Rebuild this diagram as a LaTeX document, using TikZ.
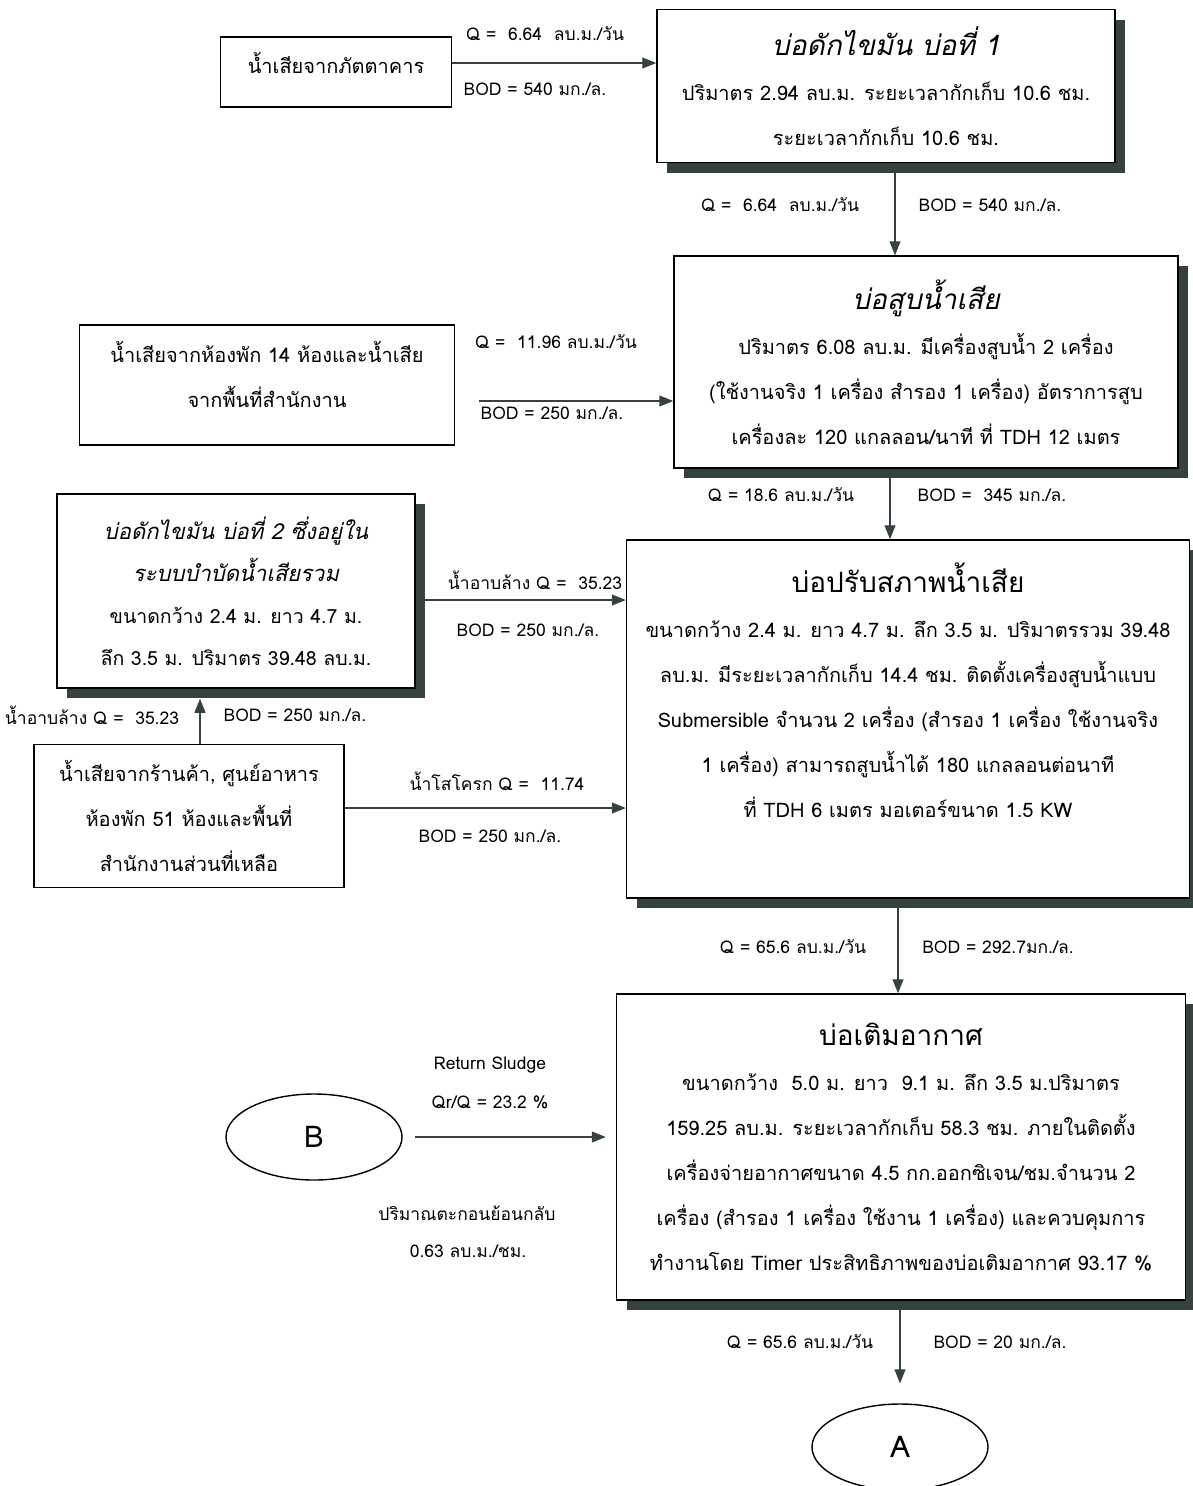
\documentclass[tikz,border=0pt]{standalone}
\usepackage{fontspec}
\setmainfont[Script=Thai]{Loma}
\usetikzlibrary{arrows.meta,shadows,shapes.geometric}
\definecolor{shade}{HTML}{35423F}
\tikzset{
  tank/.style={draw,fill=white,line width=1.5pt,inner sep=0pt,align=center,
    font=\fontsize{20}{45}\selectfont,
    drop shadow={shadow xshift=10pt,shadow yshift=-10pt,fill=shade,opacity=1}},
  src/.style={draw,line width=1.2pt,inner sep=0pt,align=center,font=\fontsize{20}{45}\selectfont},
  lbl/.style={inner sep=0pt,font=\fontsize{17.5}{20}\selectfont},
  flow/.style={-{Triangle[length=14pt,width=11pt]},line width=1.1pt,draw=shade,fill=shade},
  stop/.style={draw,ellipse,line width=1.4pt,minimum width=176pt,minimum height=86pt,font=\fontsize{30}{30}\selectfont}
}
\newcommand{\bigttl}[1]{{\fontsize{28}{45}\selectfont #1}}
\begin{document}
\begin{tikzpicture}[x=1pt,y=-1pt]
  \useasboundingbox (0,0) rectangle (1193,1486);

  \node (s1) [src,minimum width=231pt,minimum height=70pt,text depth=18pt] at (336,72)   {น้ำเสียจากภัตตาคาร};
  \node (p1) [tank,minimum width=458pt,minimum height=153pt] at (886,86)
        {\bigttl{\itshape บ่อดักไขมัน บ่อที่ 1}\\ปริมาตร 2.94 ลบ.ม. ระยะเวลากักเก็บ 10.6 ชม.\\ระยะเวลากักเก็บ 10.6 ชม.};
  \node (s2) [src,minimum width=375pt,minimum height=120pt,text depth=22pt] at (267,385)
        {น้ำเสียจากห้องพัก 14 ห้องและน้ำเสีย\\จากพื้นที่สำนักงาน};
  \node (p2) [tank,minimum width=504pt,minimum height=212pt] at (926,362)
        {\bigttl{\itshape บ่อสูบน้ำเสีย}\\ปริมาตร 6.08 ลบ.ม. มีเครื่องสูบน้ำ 2 เครื่อง\\(ใช้งานจริง 1 เครื่อง สำรอง 1 เครื่อง) อัตราการสูบ\\เครื่องละ 120 แกลลอน/นาที ที่ TDH 12 เมตร};
  \node (p4) [tank,minimum width=358pt,minimum height=194pt,font=\fontsize{19.5}{42}\selectfont] at (236,591)
        {{\fontsize{22}{42}\selectfont\itshape บ่อดักไขมัน บ่อที่ 2 ซึ่งอยู่ใน}\\{\fontsize{22}{42}\selectfont\itshape ระบบบำบัดน้ำเสียรวม}\\ขนาดกว้าง 2.4 ม. ยาว 4.7 ม.\\ลึก 3.5 ม. ปริมาตร 39.48 ลบ.ม.};
  \node (p3) [tank,minimum width=563pt,minimum height=358pt] at (908,719)
        {\bigttl{บ่อปรับสภาพน้ำเสีย}\\ขนาดกว้าง 2.4 ม. ยาว 4.7 ม. ลึก 3.5 ม. ปริมาตรรวม 39.48\\ลบ.ม. มีระยะเวลากักเก็บ 14.4 ชม. ติดตั้งเครื่องสูบน้ำแบบ\\Submersible จำนวน 2 เครื่อง (สำรอง 1 เครื่อง ใช้งานจริง\\1 เครื่อง) สามารถสูบน้ำได้ 180 แกลลอนต่อนาที\\ที่ TDH 6 เมตร มอเตอร์ขนาด 1.5 KW\\\strut};
  \node (s3) [src,minimum width=310pt,minimum height=143pt] at (189,816)
        {น้ำเสียจากร้านค้า, ศูนย์อาหาร\\ห้องพัก 51 ห้องและพื้นที่\\สำนักงานส่วนที่เหลือ};
  \node (p5) [tank,minimum width=569pt,minimum height=306pt] at (901,1147)
        {\bigttl{บ่อเติมอากาศ}\\ขนาดกว้าง\ \ 5.0 ม. ยาว\ \ 9.1 ม. ลึก 3.5 ม.ปริมาตร\\159.25 ลบ.ม. ระยะเวลากักเก็บ 58.3 ชม. ภายในติดตั้ง\\เครื่องจ่ายอากาศขนาด 4.5 กก.ออกซิเจน/ชม.จำนวน 2\\เครื่อง (สำรอง 1 เครื่อง ใช้งาน 1 เครื่อง) และควบคุมการ\\ทำงานโดย Timer ประสิทธิภาพของบ่อเติมอากาศ 93.17 \%};
  \node (B)  [stop] at (314,1137) {B};
  \node (A)  [stop] at (900,1447) {A};

  \node (q1)   [lbl] at (545,34)   {Q =\ \ 6.64\ \ ลบ.ม./วัน};
  \node (bod1) [lbl] at (535,89)   {BOD = 540 มก./ล.};
  \node (q2)   [lbl] at (780,205)  {Q =\ \ 6.64\ \ ลบ.ม./วัน};
  \node (bod2) [lbl] at (990,205)  {BOD = 540 มก./ล.};
  \node (q3)   [lbl] at (556,342)  {Q =\ \ 11.96 ลบ.ม./วัน};
  \node (bod3) [lbl] at (552,413)  {BOD = 250 มก./ล.};
  \node (q4)   [lbl] at (781,495)  {Q = 18.6 ลบ.ม./วัน};
  \node (bod4) [lbl] at (992,495)  {BOD =\ \ 345 มก./ล.};
  \node (q5)   [lbl] at (535,580)  {น้ำอาบล้าง Q =\ \ 35.23};
  \node (bod5) [lbl] at (528,630)  {BOD = 250 มก./ล.};
  \node (q6)   [lbl] at (92,715)   {น้ำอาบล้าง Q =\ \ 35.23};
  \node (bod6) [lbl] at (295,715)  {BOD = 250 มก./ล.};
  \node (q7)   [lbl] at (497,781)  {น้ำโสโครก Q =\ \ 11.74};
  \node (bod7) [lbl] at (490,836)  {BOD = 250 มก./ล.};
  \node (q8)   [lbl] at (793,947)  {Q = 65.6 ลบ.ม./วัน};
  \node (bod8) [lbl] at (998,947)  {BOD = 292.7มก./ล.};
  \node (rs)   [lbl] at (490,1065) {Return Sludge};
  \node (qr)   [lbl] at (490,1102) {Qr/Q = 23.2 \%};
  \node (ret)  [lbl] at (467,1213) {ปริมาณตะกอนย้อนกลับ};
  \node (retq) [lbl] at (468,1251) {0.63 ลบ.ม./ชม.};
  \node (q9)   [lbl] at (800,1342) {Q = 65.6 ลบ.ม./วัน};
  \node (bod9) [lbl] at (1000,1342) {BOD = 20 มก./ล.};

  \draw [flow] ([yshift=9pt]s1.east) -- ([yshift=9pt]s1.east -| p1.west);
  \draw [flow] ([xshift=9pt]p1.south) -- ([xshift=9pt]p1.south |- p2.north);
  \draw [flow,shorten <=24pt] ([yshift=-16pt]s2.east) -- ([yshift=-16pt]s2.east -| p2.west);
  \draw [flow] ([xshift=-36pt]p2.south) -- ([xshift=-36pt]p2.south |- p3.north);
  \draw [flow] ([yshift=-9pt]p4.east) -- ([yshift=-9pt]p4.east -| p3.west);
  \draw [flow,shorten >=10pt] ([xshift=11pt]s3.north) -- ([xshift=11pt]s3.north |- p4.south);
  \draw [flow] ([yshift=8pt]s3.east) -- ([yshift=8pt]s3.east -| p3.west);
  \draw [flow] ([xshift=-10pt]p3.south) -- ([xshift=-10pt]p3.south |- p5.north);
  \draw [flow,shorten <=12pt,shorten >=10pt] (B.east) -- (B.east -| p5.west);
  \draw [flow,shorten >=20pt] (p5.south -| A.north) -- (A.north);
\end{tikzpicture}
\end{document}
